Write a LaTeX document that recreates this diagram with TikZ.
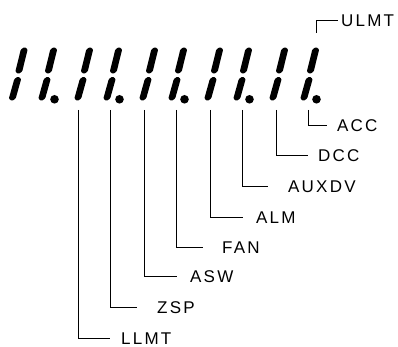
\documentclass[tikz,border=0pt]{standalone}
\usepackage{fontspec}
\newfontfamily\lblfont[LetterSpace=13]{Liberation Sans}
\newcommand\segdigit[1]{%
  \fill[rounded corners=1pt] ({#1},47) -- ({#1+3.2},49.3) -- ({#1-6+3.7},71.5) -- ({#1-6},74) -- ({#1-6-3.2},71.7) -- ({#1-3.7},49.5) -- cycle;
  \fill[rounded corners=1pt] ({#1-6.5},76.5) -- ({#1-6.5+3.2},78.8) -- ({#1-12.5+3.7},98.5) -- ({#1-12.5},101) -- ({#1-12.5-3.2},98.7) -- ({#1-6.5-3.7},79) -- cycle;
}
\begin{document}
\begin{tikzpicture}[x=1pt,y=-1pt,
  lbl/.style={anchor=west,inner sep=0pt,font=\lblfont\fontsize{17}{17}\selectfont,text height=12.2pt,text depth=0pt},
  lead/.style={draw=black,line width=0.9pt}]
\useasboundingbox (0,0) rectangle (398,347);
% digits
\foreach \X in {24.5,54,90,119,155,184,220,249,285,316} {\segdigit{\X}}
\foreach \X in {54,119,184,249,316} {\fill ({\X+0.5},99.3) circle (4.3);}
% leader start points
\coordinate (d3) at (78,110);
\coordinate (d4) at (110,110);
\coordinate (d5) at (144,110);
\coordinate (d6) at (176,110);
\coordinate (d7) at (210,110);
\coordinate (d8) at (242,110);
\coordinate (d9) at (276,110);
\coordinate (d10) at (308,110);
\coordinate (u10) at (316,33);
% line ends
\coordinate (e3) at (110,338);
\coordinate (e4) at (137,307);
\coordinate (e5) at (177,276);
\coordinate (e6) at (203,247);
\coordinate (e7) at (243,217);
\coordinate (e8) at (268,186);
\coordinate (e9) at (308,155);
\coordinate (e10) at (327,125);
\coordinate (eu) at (338,20);
% labels
\node[lbl] (LLMT) at (121,338) {LLMT};
\node[lbl] (ZSP) at (157,307) {ZSP};
\node[lbl] (ASW) at (190,276) {ASW};
\node[lbl] (FAN) at (222,247) {FAN};
\node[lbl] (ALM) at (256,217) {ALM};
\node[lbl] (AUXDV) at (288,186) {AUXDV};
\node[lbl] (DCC) at (318,155) {DCC};
\node[lbl] (ACC) at (337,125) {ACC};
\node[lbl] (ULMT) at (341,20.5) {ULMT};
% leaders
\draw[lead] (d3) |- (e3);
\draw[lead] (d4) |- (e4);
\draw[lead] (d5) |- (e5);
\draw[lead] (d6) |- (e6);
\draw[lead] (d7) |- (e7);
\draw[lead] (d8) |- (e8);
\draw[lead] (d9) |- (e9);
\draw[lead] (d10) |- (e10);
\draw[lead] (u10) |- (eu);
\end{tikzpicture}
\end{document}
